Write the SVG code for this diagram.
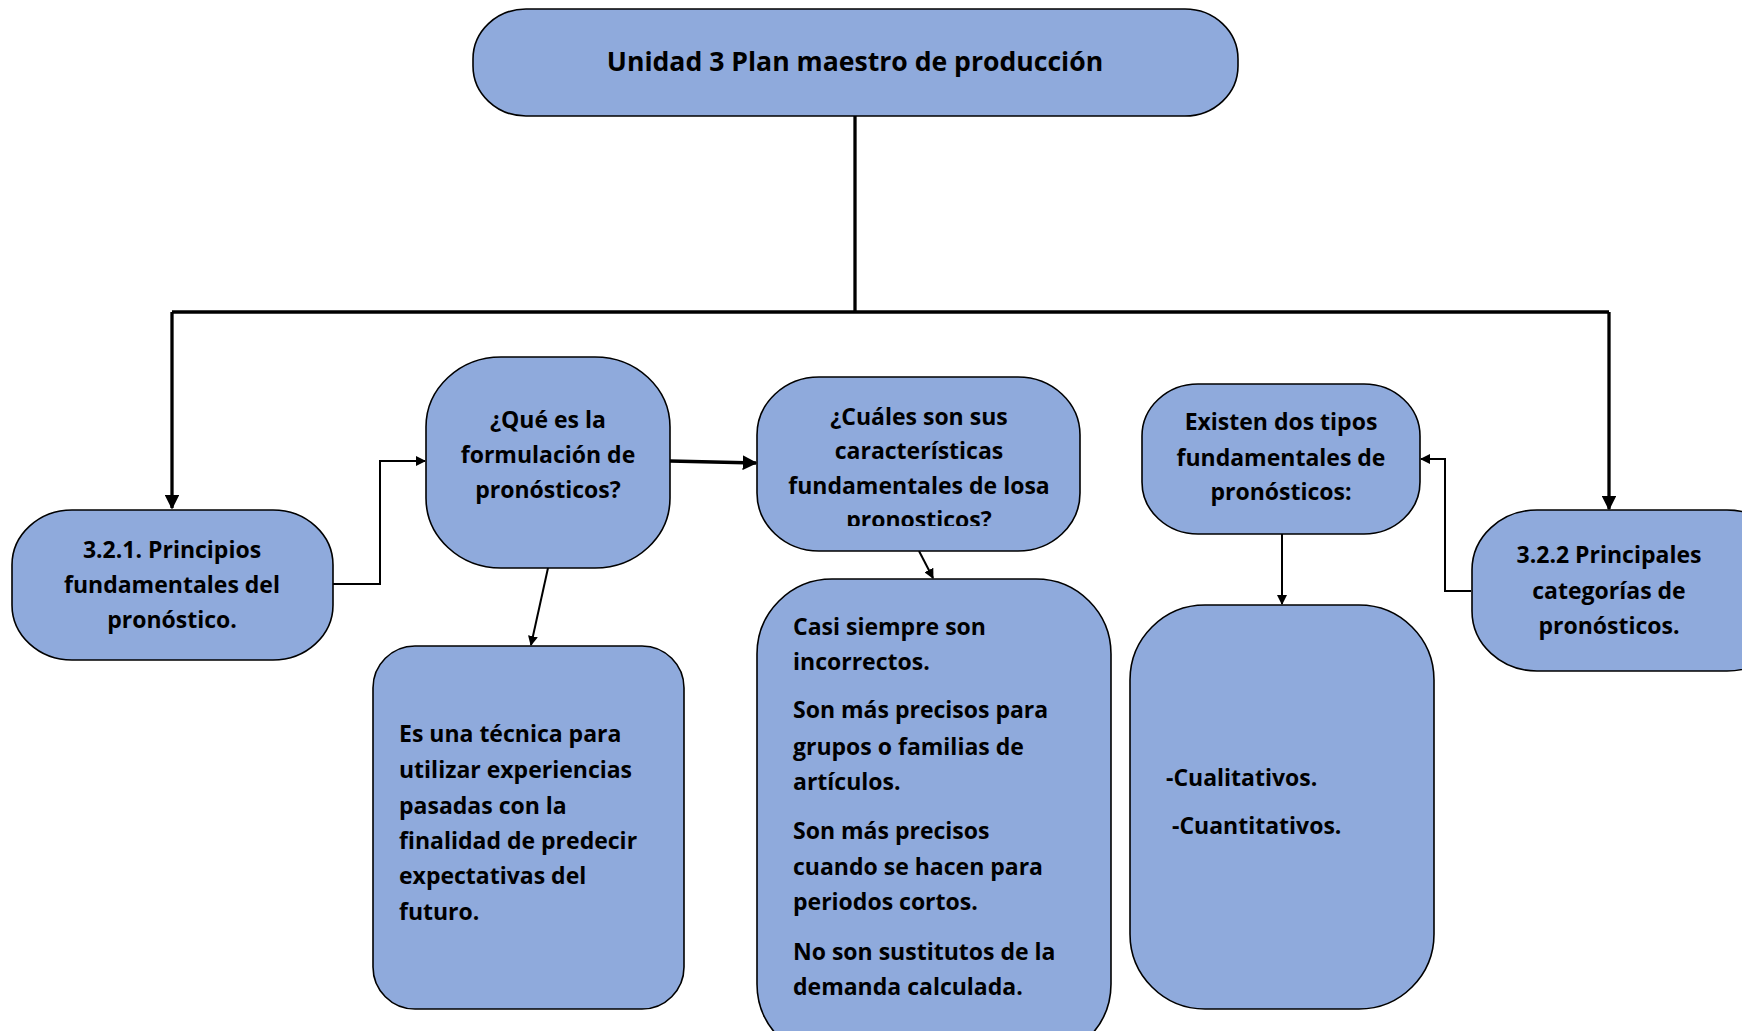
<svg xmlns="http://www.w3.org/2000/svg" width="1742" height="1031" viewBox="0 0 1742 1031">
<style>
.n{fill:#8faadc;stroke:#000;stroke-width:1.6}
.t{font-family:"Open Sans","Noto Sans","Liberation Sans",sans-serif;font-weight:700;font-size:23px;fill:#000}
.h{font-size:26.6px}
.c{text-anchor:middle}
.k{fill:none;stroke:#000;stroke-width:3.3}
.w{fill:none;stroke:#000;stroke-width:2}
</style>
<defs>
<marker id="ah" viewBox="0 0 10 10" refX="9" refY="5" markerWidth="10" markerHeight="10" markerUnits="userSpaceOnUse" orient="auto">
<path d="M0,0 L10,5 L0,10 z" fill="#000"/>
</marker>
<marker id="ahb" viewBox="0 0 10 10" refX="9" refY="5" markerWidth="4.5" markerHeight="4.5" orient="auto">
<path d="M0,0 L10,5 L0,10 z" fill="#000"/>
</marker>
<clipPath id="clipC"><rect x="757" y="377" width="323" height="149"/></clipPath>
</defs>
<g id="connectors">
<path class="k" d="M855,116 V312"/>
<path class="k" d="M172,312 H1609"/>
<path class="k" d="M172,312 V508" marker-end="url(#ahb)"/>
<path class="k" d="M1609,312 V509" marker-end="url(#ahb)"/>
<path class="w" d="M333,584 H380 V461 H425" marker-end="url(#ah)"/>
<path class="k" d="M670,461 L756,463" marker-end="url(#ahb)"/>
<path class="w" d="M548,568 L531,645" marker-end="url(#ah)"/>
<path class="w" d="M919,551 L933,578" marker-end="url(#ah)"/>
<path class="w" d="M1471,591 H1445 V459 H1421" marker-end="url(#ah)"/>
<path class="w" d="M1282,534 V604" marker-end="url(#ah)"/>
</g>
<g id="n-top">
<rect class="n" x="473" y="9" width="765" height="107" rx="53" ry="50"/>
<text class="t h c" x="855" y="71">Unidad 3 Plan maestro de producción</text>
</g>
<g id="n-321">
<rect class="n" x="12" y="510" width="321" height="150" rx="60" ry="55"/>
<text class="t c" x="172"><tspan x="172" y="558">3.2.1. Principios</tspan><tspan x="172" y="593">fundamentales del</tspan><tspan x="172" y="628">pronóstico.</tspan></text>
</g>
<g id="n-que">
<rect class="n" x="426" y="357" width="244" height="211" rx="75" ry="70"/>
<text class="t c"><tspan x="548" y="428">¿Qué es la</tspan><tspan x="548" y="463">formulación de</tspan><tspan x="548" y="498">pronósticos?</tspan></text>
</g>
<g id="n-cuales">
<rect class="n" x="757" y="377" width="323" height="174" rx="62" ry="58"/>
<text class="t c" clip-path="url(#clipC)"><tspan x="919" y="425">¿Cuáles son sus</tspan><tspan x="919" y="459">características</tspan><tspan x="919" y="494">fundamentales de losa</tspan><tspan x="919" y="528">pronosticos?</tspan></text>
</g>
<g id="n-existen">
<rect class="n" x="1142" y="384" width="278" height="150" rx="56" ry="52"/>
<text class="t c"><tspan x="1281" y="430">Existen dos tipos</tspan><tspan x="1281" y="466">fundamentales de</tspan><tspan x="1281" y="500">pronósticos:</tspan></text>
</g>
<g id="n-322">
<rect class="n" x="1472" y="510" width="320" height="161" rx="65" ry="60"/>
<text class="t c"><tspan x="1609" y="563">3.2.2 Principales</tspan><tspan x="1609" y="599">categorías de</tspan><tspan x="1609" y="634">pronósticos.</tspan></text>
</g>
<g id="n-es">
<rect class="n" x="373" y="646" width="311" height="363" rx="42" ry="42"/>
<text class="t"><tspan x="399" y="742">Es una técnica para</tspan><tspan x="399" y="778">utilizar experiencias</tspan><tspan x="399" y="814">pasadas con la</tspan><tspan x="399" y="849">finalidad de predecir</tspan><tspan x="399" y="884">expectativas del</tspan><tspan x="399" y="920">futuro.</tspan></text>
</g>
<g id="n-casi">
<rect class="n" x="757" y="579" width="354" height="480" rx="75" ry="75"/>
<text class="t"><tspan x="793" y="635">Casi siempre son</tspan><tspan x="793" y="670">incorrectos.</tspan><tspan x="793" y="718">Son más precisos para</tspan><tspan x="793" y="755">grupos o familias de</tspan><tspan x="793" y="790">artículos.</tspan><tspan x="793" y="839">Son más precisos</tspan><tspan x="793" y="875">cuando se hacen para</tspan><tspan x="793" y="910">periodos cortos.</tspan><tspan x="793" y="960">No son sustitutos de la</tspan><tspan x="793" y="995">demanda calculada.</tspan></text>
</g>
<g id="n-tipos">
<rect class="n" x="1130" y="605" width="304" height="404" rx="75" ry="75"/>
<text class="t"><tspan x="1166" y="786">-Cualitativos.</tspan><tspan x="1172" y="834">-Cuantitativos.</tspan></text>
</g>
</svg>
